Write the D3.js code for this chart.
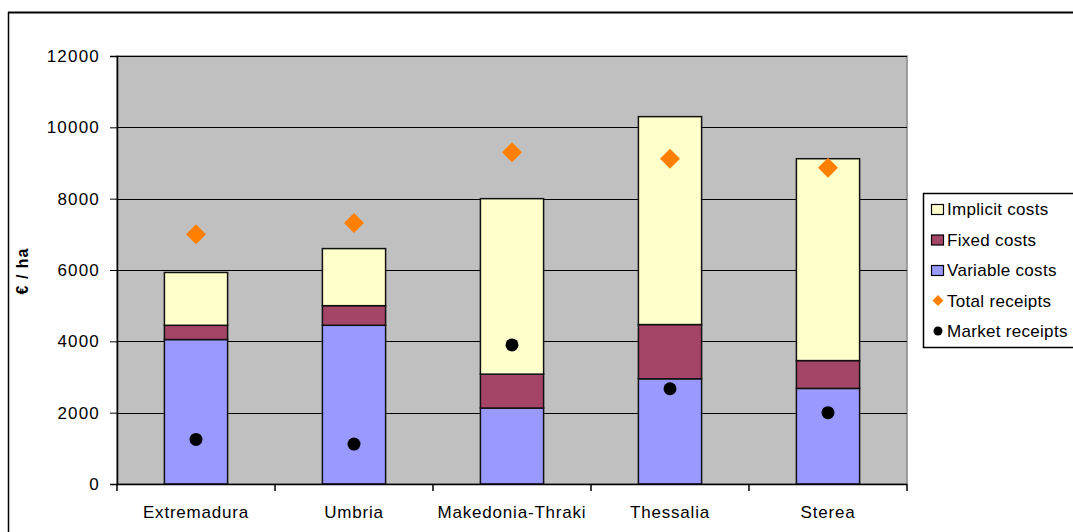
<!DOCTYPE html>
<html><head><meta charset="utf-8">
<script src="https://cdn.jsdelivr.net/npm/d3@7"></script>
<style>body{margin:0;background:#fff;}svg{display:block;}text{font-family:"Liberation Sans",Arial,sans-serif;fill:#000;}</style>
</head><body>
<script>
const categories = ["Extremadura","Umbria","Makedonia-Thraki","Thessalia","Sterea"];
const variableCosts = [4050,4450,2130,2950,2680];
const fixedCosts = [400,550,950,1520,780];
const implicitCosts = [1480,1600,4920,5830,5660];
const totalReceipts = [7000,7320,9300,9120,8870];
const marketReceipts = [1250,1120,3900,2670,2000];
const yTicks = [0,2000,4000,6000,8000,10000,12000];
const seriesNames = ["Variable costs","Fixed costs","Implicit costs"];
const colors = {"Variable costs":"#9999FF","Fixed costs":"#A44466","Implicit costs":"#FFFFCC"};

const W=1073,H=532;
const svg=d3.select("body").append("svg").attr("width",W).attr("height",H);
// outer frame
svg.append("line").attr("x1",8).attr("x2",W).attr("y1",12.5).attr("y2",12.5).attr("stroke","#000").attr("stroke-width",2);
svg.append("line").attr("x1",8.5).attr("x2",8.5).attr("y1",12).attr("y2",H).attr("stroke","#000").attr("stroke-width",1.5);

const L=117,R=907,T=56,B=484;
const x=d3.scaleBand().domain(categories).range([L,R]).paddingInner(0.6).paddingOuter(0.3);
const xb=d3.scaleBand().domain(categories).range([L,R]);
const y=d3.scaleLinear().domain([0,12000]).range([B,T]);

svg.append("rect").attr("x",L).attr("y",T).attr("width",R-L).attr("height",B-T).attr("fill","#C0C0C0").attr("stroke","#888").attr("stroke-width",1.5);
// gridlines
svg.append("g").selectAll("line").data(yTicks.filter(d=>d>0)).join("line")
 .attr("x1",L).attr("x2",R).attr("y1",d=>Math.round(y(d))+0.5).attr("y2",d=>Math.round(y(d))+0.5).attr("stroke","#000").attr("stroke-width",1);

// stacked bars
const rows=categories.map((c,i)=>({cat:c,"Variable costs":variableCosts[i],"Fixed costs":fixedCosts[i],"Implicit costs":implicitCosts[i]}));
const stack=d3.stack().keys(seriesNames)(rows);
svg.append("g").selectAll("g").data(stack).join("g").attr("fill",d=>colors[d.key])
 .selectAll("rect").data(d=>d).join("rect")
 .attr("x",d=>x(d.data.cat)).attr("width",x.bandwidth())
 .attr("y",d=>y(d[1])).attr("height",d=>y(d[0])-y(d[1]))
 .attr("stroke","#111").attr("stroke-width",1.5);

// axes
const yAxis=svg.append("g").attr("transform",`translate(${L},0)`)
 .call(d3.axisLeft(y).tickValues(yTicks).tickSize(7).tickPadding(10).tickFormat(d3.format("d")));
yAxis.select(".domain").attr("stroke","#000").attr("stroke-width",1.5);
yAxis.selectAll(".tick line").attr("stroke","#000");
yAxis.selectAll("text").attr("font-size",17).attr("letter-spacing",1.2).style("font-family","Liberation Sans, Arial, sans-serif").attr("fill","#222");

const xAxis=svg.append("g").attr("transform",`translate(0,${B})`);
xAxis.append("line").attr("x1",L).attr("x2",R).attr("y1",0.5).attr("y2",0.5).attr("stroke","#000").attr("stroke-width",1.5);
xAxis.selectAll("line.tk").data(categories.map(c=>xb(c)).concat([R])).join("line").attr("class","tk")
 .attr("x1",d=>d).attr("x2",d=>d).attr("y1",0).attr("y2",7).attr("stroke","#000").attr("stroke-width",1.5);
xAxis.selectAll("text").data(categories).join("text")
 .attr("x",d=>xb(d)+xb.bandwidth()/2).attr("y",34).attr("text-anchor","middle").attr("font-size",17).attr("letter-spacing",0.8).attr("fill","#222").text(d=>d);

// y title
svg.append("text").attr("transform","translate(28,271) rotate(-90)").attr("text-anchor","middle")
 .attr("font-size",16).attr("font-weight","bold").attr("letter-spacing",1).text("€ / ha");

// markers
const cx=c=>x(c)+x.bandwidth()/2;
svg.append("g").selectAll("path").data(categories).join("path")
 .attr("d",d3.symbol().type(d3.symbolSquare).size(200))
 .attr("transform",(c,i)=>`translate(${cx(c)},${y(totalReceipts[i])}) rotate(45)`).attr("fill","#FF8000");
svg.append("g").selectAll("circle").data(categories).join("circle")
 .attr("cx",c=>cx(c)).attr("cy",(c,i)=>y(marketReceipts[i])).attr("r",6.5).attr("fill","#000");

// legend
const lg=svg.append("g");
lg.append("rect").attr("x",923.5).attr("y",193.5).attr("width",170).attr("height",154).attr("fill","#fff").attr("stroke","#000").attr("stroke-width",1.5);
const legItems=[{n:"Implicit costs",t:"box",c:colors["Implicit costs"]},{n:"Fixed costs",t:"box",c:colors["Fixed costs"]},{n:"Variable costs",t:"box",c:colors["Variable costs"]},{n:"Total receipts",t:"dia",c:"#FF8000"},{n:"Market receipts",t:"dot",c:"#000"}];
legItems.forEach((it,i)=>{
 const yy=209+i*30.5;
 if(it.t==="box") lg.append("rect").attr("x",931.5).attr("y",yy-4.5).attr("width",12).attr("height",10).attr("fill",it.c).attr("stroke","#000").attr("stroke-width",1.2);
 else if(it.t==="dia") lg.append("path").attr("d",d3.symbol().type(d3.symbolSquare).size(60)).attr("transform",`translate(938,${yy}) rotate(45)`).attr("fill",it.c);
 else lg.append("circle").attr("cx",938).attr("cy",yy).attr("r",4.5).attr("fill",it.c);
 lg.append("text").attr("x",947).attr("y",yy+6).attr("font-size",17).attr("letter-spacing",0.3).attr("fill","#222").text(it.n);
});
</script>
</body></html>
